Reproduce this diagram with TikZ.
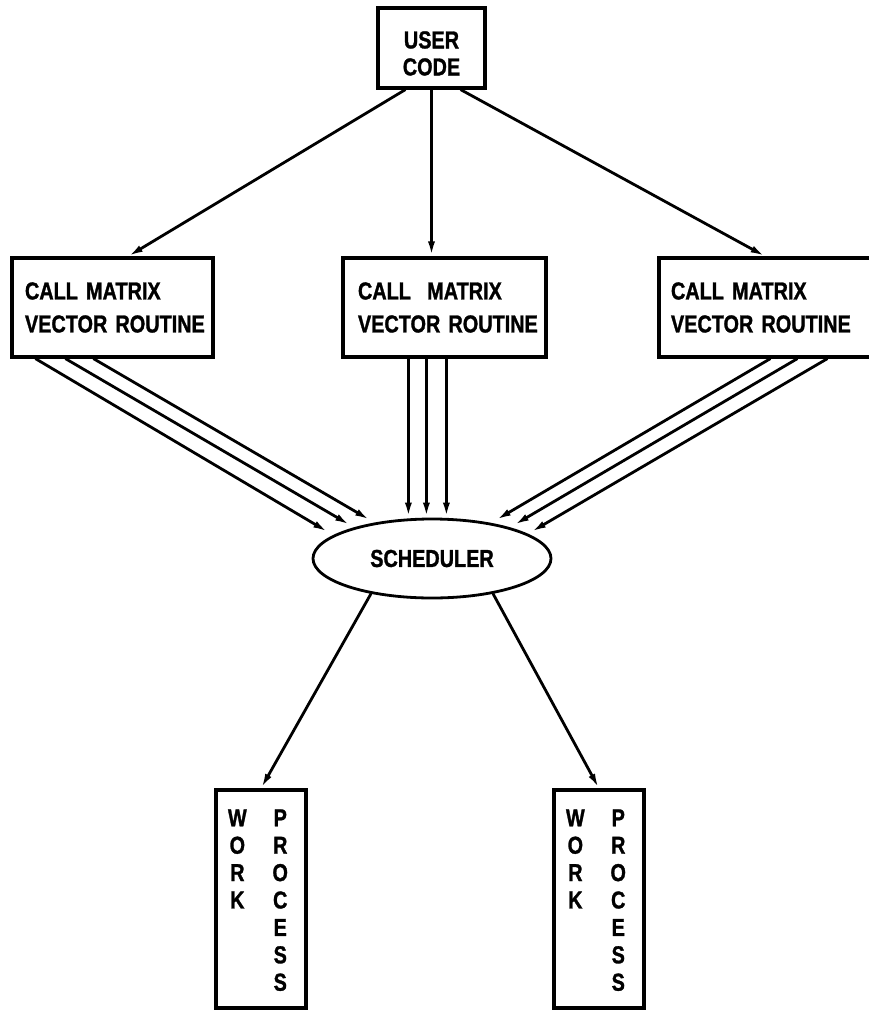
\documentclass[tikz,border=0pt]{standalone}
\usepackage{fontspec}
\newfontfamily\lbl{Liberation Sans}[FakeStretch=0.81, BoldFeatures={FakeBold=1.2}]
\usetikzlibrary{arrows.meta,shapes.geometric,calc}
\begin{document}
\begin{tikzpicture}[x=1pt,y=-1pt,
  txt/.style={font=\lbl\bfseries\fontsize{24.5pt}{33pt}\selectfont},
  box/.style={draw, line width=3.2pt, rectangle, inner ysep=0pt, txt, align=left},
  wbox/.style={draw, line width=3.2pt, rectangle, inner ysep=0pt, inner xsep=12pt,
    minimum width=90pt, minimum height=218pt, text width=66pt, align=left,
    font=\lbl\bfseries\fontsize{24.5pt}{27.4pt}\selectfont},
  arr/.style={line width=2.8pt, -{Latex[length=15pt,width=7pt]}},
]
\useasboundingbox (0,0) rectangle (869,1011);
\clip (0,0) rectangle (869,1011);

% nodes
\node[box, align=center, inner xsep=0pt, minimum width=107pt, minimum height=80pt,
  font=\lbl\bfseries\fontsize{24.5pt}{27pt}\selectfont] (U) at (431.5,48) {\rule{0pt}{28pt}USER\\CODE};
\node[box, inner xsep=13pt, text width=175pt, minimum height=99pt] (L) at (112.5,307.5) {\mbox{CALL MATRIX}\\\mbox{VECTOR ROUTINE}};
\node[box, inner xsep=15pt, text width=173pt, minimum height=99pt] (M) at (444.5,307.5) {\mbox{CALL \ MATRIX}\\\mbox{VECTOR ROUTINE}};
\node[box, inner xsep=12pt, text width=197pt, minimum height=99pt] (R) at (769.5,307.5) {\mbox{CALL MATRIX}\\\mbox{VECTOR ROUTINE}};
\node[draw, ellipse, line width=2.8pt, minimum width=238pt, minimum height=79pt, inner sep=0pt, txt] (S) at (432,558.5) {SCHEDULER};
\node[wbox] (W1) at (261,899) {\raisebox{-4pt}[\height][\depth]{\begin{tabular}{@{}c@{\hspace{25.8pt}}c@{}}W&P\\O&R\\R&O\\K&C\\&E\\&S\\&S\end{tabular}}};
\node[wbox] (W2) at (599,899) {\raisebox{-4pt}[\height][\depth]{\begin{tabular}{@{}c@{\hspace{25.8pt}}c@{}}W&P\\O&R\\R&O\\K&C\\&E\\&S\\&S\end{tabular}}};

% user code to routines
\draw[arr] ($(U.south west)+(29,0)$) -- ($(L.north)+(15.5,0)$);
\draw[arr] (U.south) -- (U.south |- M.north);
\draw[arr] ($(U.south east)+(-26,0)$) -- ($(R.north west)+(108,0)$);

% triple connectors to scheduler
\coordinate (l1) at ($(L.south west)+(25,0)$);
\coordinate (l2) at ($(L.south west)+(55,0)$);
\coordinate (l3) at ($(L.south west)+(83,0)$);
\coordinate (lt1) at (328,532);
\coordinate (lt2) at (350,525);
\coordinate (lt3) at (370,520);
\draw[arr] (l1) -- (lt1);
\draw[arr] (l2) -- (lt2);
\draw[arr] (l3) -- (lt3);

\coordinate (m1) at ($(M.south west)+(67,0)$);
\coordinate (m2) at ($(M.south west)+(85,0)$);
\coordinate (m3) at ($(M.south west)+(105,0)$);
\draw[arr] (m1) -- (m1 |- S.north);
\draw[arr] (m2) -- (m2 |- S.north);
\draw[arr] (m3) -- (m3 |- S.north);

\coordinate (r1) at ($(R.south west)+(113,0)$);
\coordinate (r2) at ($(R.south west)+(140,0)$);
\coordinate (r3) at ($(R.south west)+(170,0)$);
\coordinate (rt1) at (496,520);
\coordinate (rt2) at (514,525);
\coordinate (rt3) at (531,532);
\draw[arr] (r1) -- (rt1);
\draw[arr] (r2) -- (rt2);
\draw[arr] (r3) -- (rt3);

% scheduler to work processes
\draw[arr] (S.-150) -- (W1.north);
\draw[arr] (S.-30) -- (W2.north);
\end{tikzpicture}
\end{document}
